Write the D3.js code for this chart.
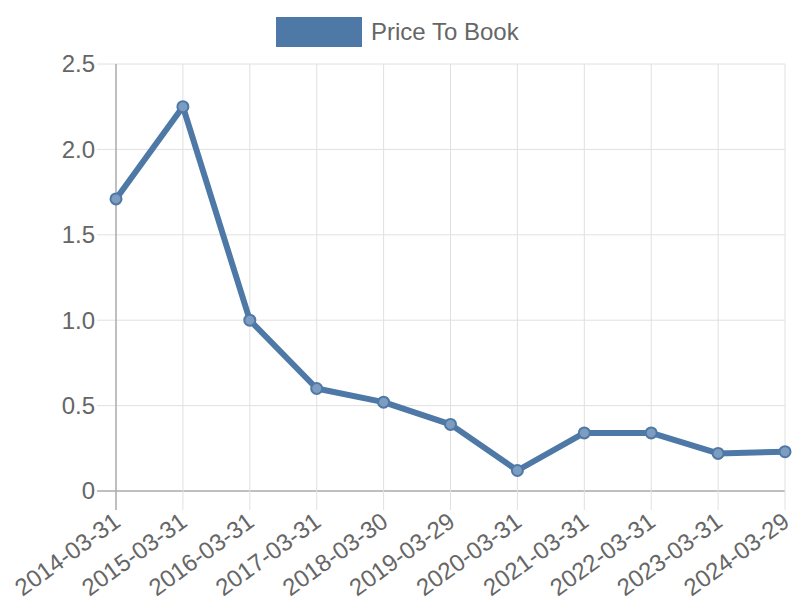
<!DOCTYPE html>
<html><head><meta charset="utf-8">
<script src="https://cdn.jsdelivr.net/npm/d3@7"></script>
<style>body{margin:0;background:#fff}svg{display:block}text{font-family:"Liberation Sans",Arial,sans-serif}</style>
</head><body>
<svg id="c" width="800" height="600"></svg>
<script>
const categories = ["2014-03-31","2015-03-31","2016-03-31","2017-03-31","2018-03-30","2019-03-29","2020-03-31","2021-03-31","2022-03-31","2023-03-31","2024-03-29"];
const values = [1.71, 2.25, 1.00, 0.60, 0.52, 0.39, 0.12, 0.34, 0.34, 0.22, 0.23];
const yTicks = [0, 0.5, 1.0, 1.5, 2.0, 2.5];
const seriesName = "Price To Book";

const svg = d3.select("#c");
const L = 116, R = 785, T = 64, B = 491;
const color = "#4e79a7";
const x = d3.scalePoint().domain(categories).range([L, R]);
const y = d3.scaleLinear().domain([0, 2.5]).range([B, T]);

// grid
const g = svg.append("g");
g.selectAll(".hg").data(yTicks).join("line")
  .attr("x1", L - 19).attr("x2", R).attr("y1", d => y(d)).attr("y2", d => y(d))
  .attr("stroke", d => d === 0 ? "#aaa" : "#e0e0e0").attr("stroke-width", d => d===0?1.5:1);
g.selectAll(".vg").data(categories).join("line")
  .attr("x1", d => x(d)).attr("x2", d => x(d)).attr("y1", T).attr("y2", B + 19)
  .attr("stroke", (d,i) => i === 0 ? "#aaa" : "#e0e0e0").attr("stroke-width", (d,i)=>i===0?1.5:1);

// y labels
g.selectAll(".yl").data(yTicks).join("text")
  .attr("x", L - 21).attr("y", d => y(d)).attr("dy", "0.35em")
  .attr("text-anchor", "end").attr("font-size", 24).attr("fill", "#666")
  .text(d => d === 0 ? "0" : d.toFixed(1));

// x labels
g.selectAll(".xl").data(categories).join("text")
  .attr("transform", d => `translate(${x(d)+1},${B + 27}) rotate(-36)`)
  .attr("text-anchor", "end").attr("dy", "0.35em").attr("font-size", 24).attr("fill", "#666")
  .text(d => d);

// line
const line = d3.line().x((d,i) => x(categories[i])).y(d => y(d));
svg.append("path").datum(values).attr("d", line)
  .attr("fill", "none").attr("stroke", color).attr("stroke-width", 6).attr("stroke-linejoin", "round");
svg.selectAll(".pt").data(values).join("circle")
  .attr("cx", (d,i) => x(categories[i])).attr("cy", d => y(d)).attr("r", 5.5)
  .attr("fill", "#7d9cc0").attr("stroke", color).attr("stroke-width", 2);

// legend
svg.append("rect").attr("x", 276).attr("y", 17).attr("width", 86).attr("height", 30).attr("fill", color);
svg.append("text").attr("x", 371).attr("y", 40).attr("font-size", 24).attr("fill", "#666").text(seriesName);
</script>
</body></html>
